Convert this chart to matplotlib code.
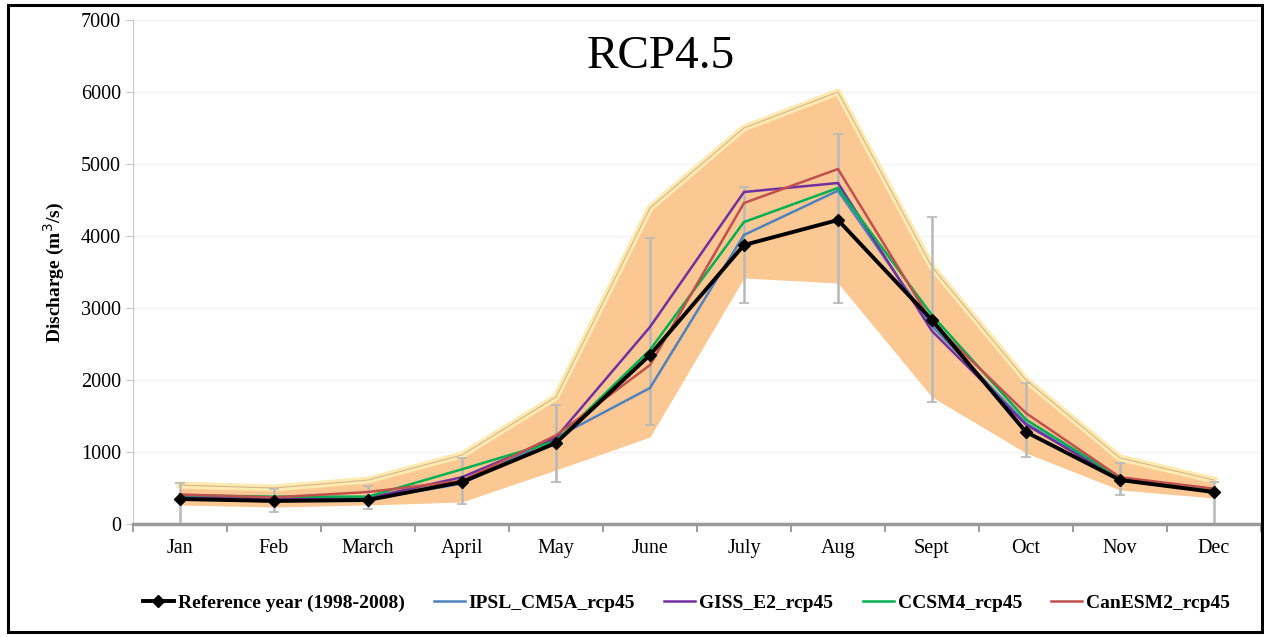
import numpy as np
import matplotlib.pyplot as plt
from matplotlib.patches import Rectangle
from matplotlib.lines import Line2D

months = ["Jan", "Feb", "March", "April", "May", "June", "July", "Aug", "Sept", "Oct", "Nov", "Dec"]

reference = [347, 320, 333, 583, 1125, 2347, 3875, 4222, 2833, 1278, 611, 444]
ref_err_up = [220, 165, 200, 340, 530, 1620, 800, 1200, 1430, 680, 236, 140]
ref_err_low = [347, 155, 125, 305, 540, 970, 805, 1150, 1140, 345, 208, 444]

band_upper = [540, 500, 610, 958, 1764, 4389, 5500, 6000, 3570, 2000, 917, 610]
band_lower = [264, 236, 264, 306, 750, 1208, 3417, 3347, 1764, 986, 472, 361]

ipsl = [370, 350, 340, 560, 1200, 1889, 4014, 4630, 2750, 1400, 620, 460]
giss = [380, 350, 360, 650, 1200, 2736, 4611, 4736, 2680, 1380, 620, 470]
ccsm4 = [400, 380, 380, 760, 1150, 2417, 4194, 4667, 2900, 1450, 640, 480]
canesm2 = [410, 370, 444, 600, 1230, 2208, 4458, 4930, 2800, 1540, 650, 490]

plt.rcParams['font.family'] = ['Liberation Serif', 'DejaVu Serif']

fig = plt.figure(figsize=(12.64, 6.37), dpi=100)
ax = fig.add_axes([0.1052, 0.1774, 0.8924, 0.7912])

x = np.arange(len(months))

# shaded range of the projections
ax.fill_between(x, band_lower, band_upper, color="#fbc894", lw=0, zorder=1)
ax.plot(x, band_upper, color="#fdeab0", lw=5, zorder=1.5)
ax.plot(x, band_upper, color="#d9b48c", lw=0.8, zorder=1.6)

ax.errorbar(x, reference, yerr=[ref_err_low, ref_err_up], fmt="none",
            ecolor="#b8b8b8", elinewidth=1.8, capsize=3.5, capthick=1.2, zorder=2)

ax.plot(x, ipsl, color="#4f81bd", lw=1.8, zorder=3)
ax.plot(x, giss, color="#7030a0", lw=1.8, zorder=3)
ax.plot(x, ccsm4, color="#00b050", lw=1.8, zorder=3)
ax.plot(x, canesm2, color="#c0504d", lw=1.8, zorder=3)
ax.plot(x, reference, color="black", lw=2.8, marker="D", ms=6, zorder=4)

ax.set_xlim(-0.5, 11.5)
ax.set_ylim(0, 7000)
ax.set_yticks(range(0, 7001, 1000))
ax.set_xticks(x)
ax.set_xticklabels(months, fontsize=14.5)
ax.set_xticks(np.arange(-0.5, 12, 1), minor=True)
ax.tick_params(axis="x", which="major", length=0, pad=11)
ax.tick_params(axis="x", which="minor", length=6, color="#8c8c8c", width=1.2)
ax.tick_params(axis="y", labelsize=14.5, length=5, color="#c8c8c8")
ax.yaxis.grid(True, color="#f3f3f3", lw=1)
ax.set_axisbelow(True)

for s in ["top", "right"]:
    ax.spines[s].set_visible(False)
ax.spines["left"].set_color("#c8c8c8")
ax.spines["bottom"].set_color("#9a9a9a")
ax.spines["bottom"].set_linewidth(2.5)

ax.set_ylabel("Discharge (m$^3$/s)", fontsize=14, fontweight="bold", labelpad=10)
ax.text(0.468, 0.928, "RCP4.5", transform=ax.transAxes, ha="center", va="center", fontsize=34)

handles = [Line2D([], [], color="black", lw=2.8, marker="D", ms=6),
           Line2D([], [], color="#4f81bd", lw=1.8),
           Line2D([], [], color="#7030a0", lw=1.8),
           Line2D([], [], color="#00b050", lw=1.8),
           Line2D([], [], color="#c0504d", lw=1.8)]
labels = ["Reference year (1998-2008)", "IPSL_CM5A_rcp45", "GISS_E2_rcp45", "CCSM4_rcp45", "CanESM2_rcp45"]
fig.legend(handles, labels, loc="center", bbox_to_anchor=(0.543, 0.053), ncol=5, frameon=False,
           prop={"weight": "bold", "size": 14}, handlelength=1.6, handletextpad=0.2, columnspacing=1.5)

fig.patches.append(Rectangle((8 / 1264, 5 / 637), 1254 / 1264, 627 / 637, transform=fig.transFigure,
                             fill=False, edgecolor="black", lw=2.2))

fig.savefig("out.png", dpi=100)
